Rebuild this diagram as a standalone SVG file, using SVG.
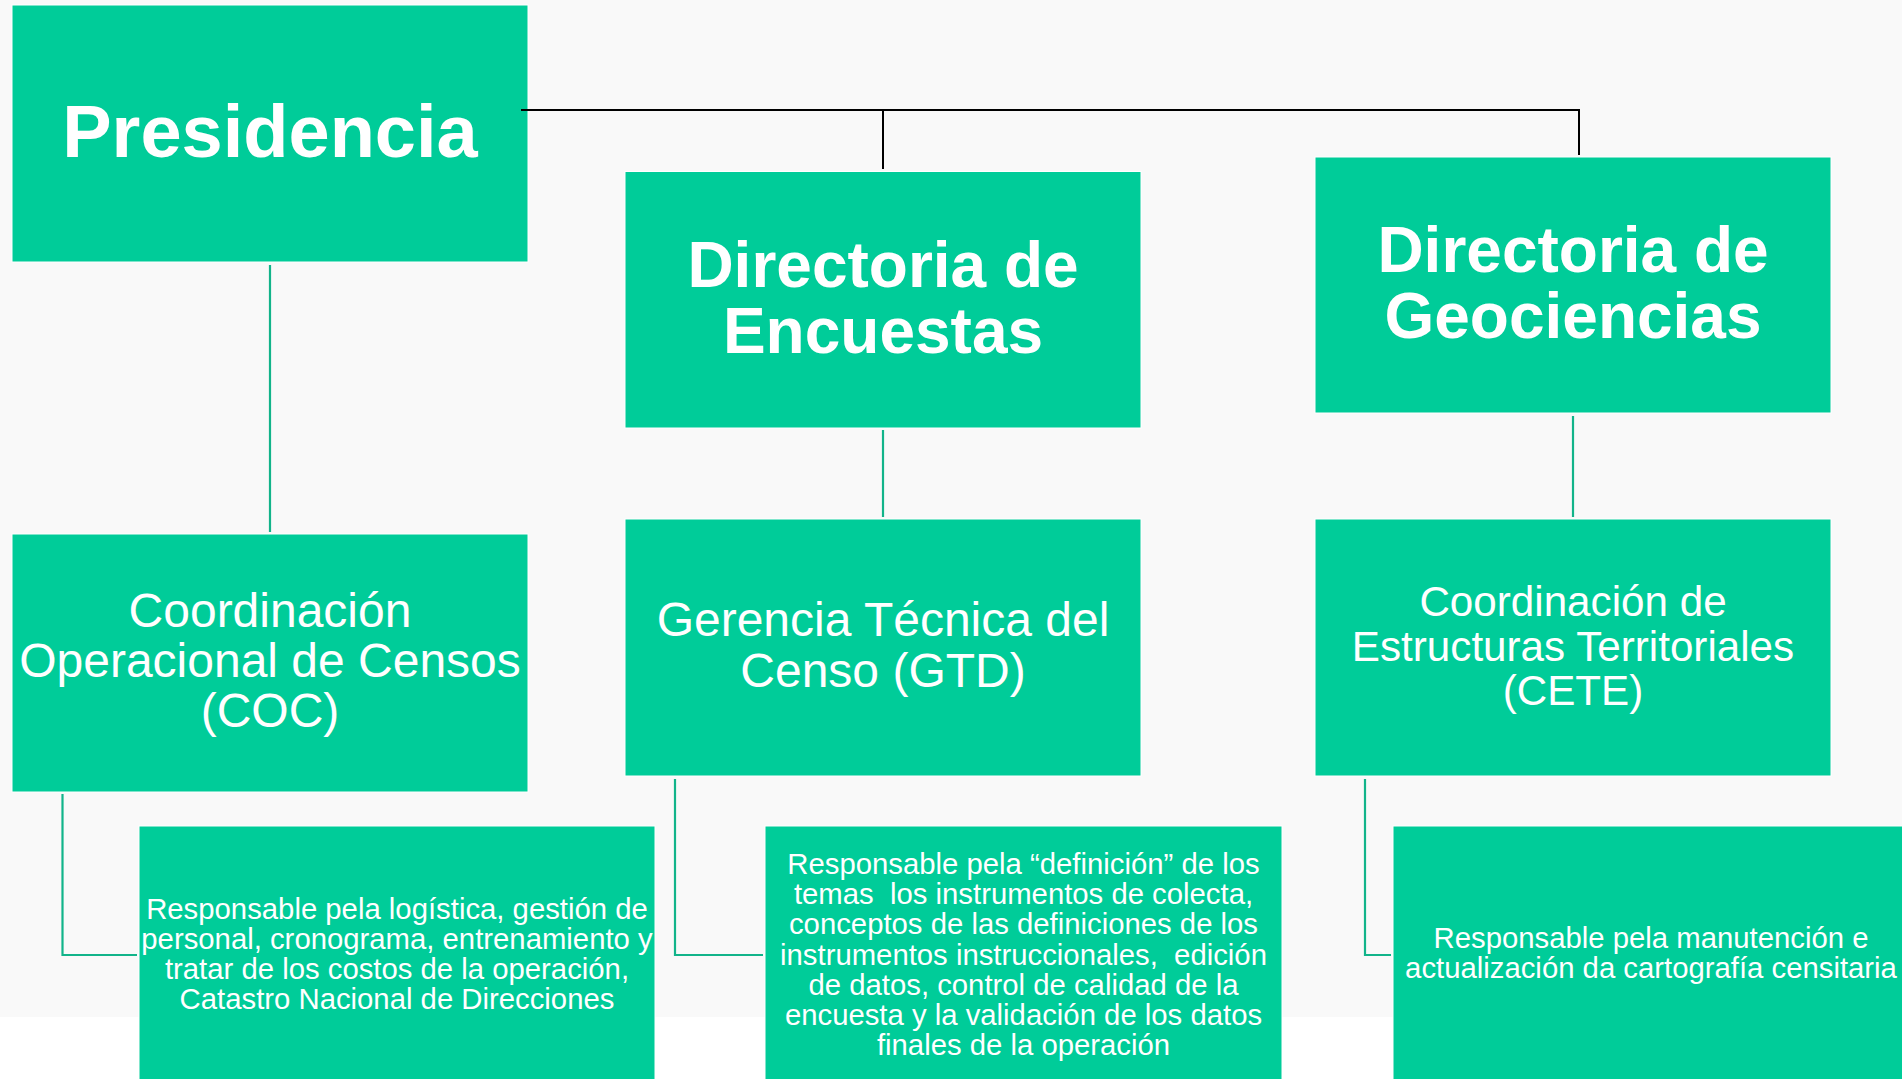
<svg xmlns="http://www.w3.org/2000/svg" width="1902" height="1079" viewBox="0 0 1902 1079">
<style>
.box{fill:#00CC99;stroke:#ffffff;stroke-width:1}
.t{font-family:"Liberation Sans",Arial,sans-serif;fill:#ffffff;text-anchor:middle}
.tb{font-weight:bold}
.k{stroke:#000000;stroke-width:2;fill:none}
.g{stroke:#12B48A;stroke-width:2.2;fill:none}
</style>
<rect x="0" y="0" width="1902" height="1017" fill="#F9F9F9"/>
<g id="connectors">
<path class="g" d="M270,265 V532"/>
<path class="g" d="M883,430 V517"/>
<path class="g" d="M1573,416 V517"/>
<path class="g" d="M62.5,794 V955 H137"/>
<path class="g" d="M675,779 V955 H763"/>
<path class="g" d="M1365,779 V955 H1391"/>
</g>
<g id="presidencia">
<rect class="box" x="12" y="5" width="516" height="257"/>
<text class="t tb" x="270" y="157" font-size="74">Presidencia</text>
</g>
<g id="connectors-top">
<path class="k" d="M521,110 H1579 V155"/>
<path class="k" d="M883,110 V169"/>
</g>
<g id="dir-encuestas">
<rect class="box" x="625" y="171.5" width="516" height="256.5"/>
<text class="t tb" font-size="64"><tspan x="883" y="287">Directoria de</tspan><tspan x="883" y="353">Encuestas</tspan></text>
</g>
<g id="dir-geociencias">
<rect class="box" x="1315" y="157" width="516" height="256"/>
<text class="t tb" font-size="64"><tspan x="1573" y="272">Directoria de</tspan><tspan x="1573" y="337.5">Geociencias</tspan></text>
</g>
<g id="coc">
<rect class="box" x="12" y="534" width="516" height="258"/>
<text class="t" font-size="48"><tspan x="270" y="627">Coordinación</tspan><tspan x="270" y="677">Operacional de Censos</tspan><tspan x="270" y="727">(COC)</tspan></text>
</g>
<g id="gtd">
<rect class="box" x="625" y="519" width="516" height="257"/>
<text class="t" font-size="48"><tspan x="883" y="636">Gerencia Técnica del</tspan><tspan x="883" y="687">Censo (GTD)</tspan></text>
</g>
<g id="cete">
<rect class="box" x="1315" y="519" width="516" height="257"/>
<text class="t" font-size="42.2"><tspan x="1573" y="616">Coordinación de</tspan><tspan x="1573" y="661">Estructuras Territoriales</tspan><tspan x="1573" y="705">(CETE)</tspan></text>
</g>
<g id="coc-desc">
<rect class="box" x="139" y="826" width="516" height="260"/>
<text class="t" font-size="29.3"><tspan x="397" y="918.5">Responsable pela logística, gestión de</tspan><tspan x="397" y="948.8">personal, cronograma, entrenamiento y</tspan><tspan x="397" y="979">tratar de los costos de la operación,</tspan><tspan x="397" y="1009.3">Catastro Nacional de Direcciones</tspan></text>
</g>
<g id="gtd-desc">
<rect class="box" x="765" y="826" width="517" height="260"/>
<text class="t" font-size="29.3" xml:space="preserve"><tspan x="1023.5" y="874">Responsable pela “definición” de los</tspan><tspan x="1023.5" y="904.2">temas  los instrumentos de colecta,</tspan><tspan x="1023.5" y="934.4">conceptos de las definiciones de los</tspan><tspan x="1023.5" y="964.6">instrumentos instruccionales,  edición</tspan><tspan x="1023.5" y="994.8">de datos, control de calidad de la</tspan><tspan x="1023.5" y="1025">encuesta y la validación de los datos</tspan><tspan x="1023.5" y="1055.2">finales de la operación</tspan></text>
</g>
<g id="cete-desc">
<rect class="box" x="1393" y="826" width="516" height="260"/>
<text class="t" font-size="29.3"><tspan x="1651" y="948">Responsable pela manutención e</tspan><tspan x="1651" y="978">actualización da cartografía censitaria</tspan></text>
</g>
</svg>
